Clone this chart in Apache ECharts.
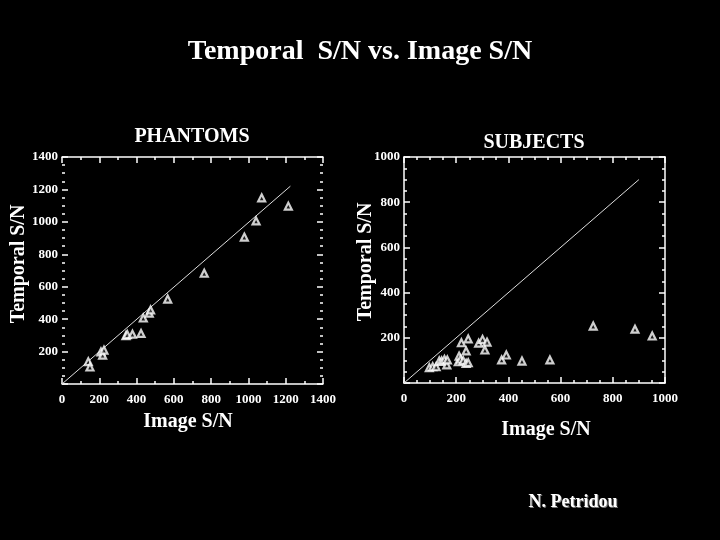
<!DOCTYPE html>
<html>
<head>
<meta charset="utf-8">
<style>html,body{margin:0;padding:0;background:#000;}#c{width:720px;height:540px;}</style>
<script src="https://cdn.jsdelivr.net/npm/echarts@6/dist/echarts.min.js"></script>
</head>
<body>
<div id="c"></div>
<script>
// ---- data ----
var phantomX = [141,150,209,218,225,343,350,378,424,436,468,475,567,763,978,1041,1071,1214];
var phantomY = [138,105,198,178,209,298,305,307,312,407,437,457,524,683,906,1006,1148,1097];
var phantomLineX = [0,1225];
var phantomLineY = [0,1220];

var subjectX = [97,110,123,135,144,155,164,166,208,211,217,227,238,238,246,246,220,286,301,318,310,374,392,452,559,725,885,951];
var subjectY = [68,72,72,97,97,104,80,102,94,119,105,99,87,142,90,195,178,176,193,181,146,102,124,97,102,252,238,208];
var subjectLineX = [0,900];
var subjectLineY = [0,900];

function zip(a,b){var r=[];for(var i=0;i<a.length;i++)r.push([a[i],b[i]]);return r;}

var FONT = 'Liberation Serif';

function mkAxis(opt){
  return {
    type:'value', min:opt.min, max:opt.max, interval:opt.interval,
    gridIndex:opt.grid, position:opt.position,
    axisLine:{show:opt.line, onZero:false, lineStyle:{color:'#fff', width:1.5}},
    axisTick:{show:true, inside:true, length:6, lineStyle:{color:'#fff', width:1.5}},
    minorTick:{show:true, splitNumber:opt.minor, length:3, lineStyle:{color:'#fff', width:1.5}},
    splitLine:{show:false},
    axisLabel:{show:opt.label, margin:opt.margin||8, showMinLabel:opt.showMin!==false,
      formatter:function(v){return String(v);},
      color:'#fff', fontFamily:FONT, fontWeight:'bold', fontSize:13}
  };
}

var chart = echarts.init(document.getElementById('c'));
var triStyle = {color:'#222', borderColor:'#fff', borderWidth:2.2};

chart.setOption({
  backgroundColor:'#000',
  animation:false,
  grid:[
    {left:62, top:157, width:261, height:227},
    {left:404, top:157, width:261, height:226}
  ],
  xAxis:[
    mkAxis({min:0,max:1400,interval:200,grid:0,position:'bottom',line:true,minor:2,label:true,margin:9}),
    mkAxis({min:0,max:1400,interval:200,grid:0,position:'top',line:true,minor:2,label:false}),
    mkAxis({min:0,max:1000,interval:200,grid:1,position:'bottom',line:true,minor:4,label:true,margin:9}),
    mkAxis({min:0,max:1000,interval:200,grid:1,position:'top',line:true,minor:4,label:false})
  ],
  yAxis:[
    mkAxis({min:0,max:1400,interval:200,grid:0,position:'left',line:false,minor:4,label:true,margin:4,showMin:false}),
    mkAxis({min:0,max:1400,interval:200,grid:0,position:'right',line:false,minor:4,label:false}),
    mkAxis({min:0,max:1000,interval:200,grid:1,position:'left',line:true,minor:4,label:true,margin:4,showMin:false}),
    mkAxis({min:0,max:1000,interval:200,grid:1,position:'right',line:true,minor:4,label:false})
  ],
  series:[
    {type:'line', xAxisIndex:0, yAxisIndex:0, data:zip(phantomLineX,phantomLineY), symbol:'none',
     lineStyle:{color:'#ddd', width:1}, z:1, silent:true},
    {type:'scatter', xAxisIndex:0, yAxisIndex:0, data:zip(phantomX,phantomY), symbol:'triangle', symbolSize:7,
     itemStyle:triStyle, z:2},
    {type:'line', xAxisIndex:2, yAxisIndex:2, data:zip(subjectLineX,subjectLineY), symbol:'none',
     lineStyle:{color:'#ddd', width:1}, z:1, silent:true},
    {type:'scatter', xAxisIndex:2, yAxisIndex:2, data:zip(subjectX,subjectY), symbol:'triangle', symbolSize:7,
     itemStyle:triStyle, z:2}
  ],
  graphic:[
    {type:'text', style:{text:'Temporal  S/N vs. Image S/N', x:360, y:52, align:'center', verticalAlign:'middle',
      fill:'#fff', font:'bold 28px "Liberation Serif"'}},
    {type:'text', style:{text:'PHANTOMS', x:192, y:137, align:'center', verticalAlign:'middle',
      fill:'#fff', font:'bold 20px "Liberation Serif"'}},
    {type:'text', style:{text:'SUBJECTS', x:534, y:143, align:'center', verticalAlign:'middle',
      fill:'#fff', font:'bold 20px "Liberation Serif"'}},
    {type:'text', x:19, y:264, rotation:Math.PI/2, style:{text:'Temporal S/N', x:0, y:0, align:'center', verticalAlign:'middle',
      fill:'#fff', font:'bold 20px "Liberation Serif"'}},
    {type:'text', x:366, y:262, rotation:Math.PI/2, style:{text:'Temporal S/N', x:0, y:0, align:'center', verticalAlign:'middle',
      fill:'#fff', font:'bold 20px "Liberation Serif"'}},
    {type:'text', style:{text:'Image S/N', x:188, y:422, align:'center', verticalAlign:'middle',
      fill:'#fff', font:'bold 20px "Liberation Serif"'}},
    {type:'text', style:{text:'Image S/N', x:546, y:430, align:'center', verticalAlign:'middle',
      fill:'#fff', font:'bold 20px "Liberation Serif"'}},
    {type:'text', style:{text:'N. Petridou', x:574, y:503, align:'center', verticalAlign:'middle',
      fill:'#777', font:'bold 18px "Liberation Serif"'}},
    {type:'text', style:{text:'N. Petridou', x:573, y:502, align:'center', verticalAlign:'middle',
      fill:'#fff', font:'bold 18px "Liberation Serif"'}}
  ]
});
</script>
</body>
</html>
